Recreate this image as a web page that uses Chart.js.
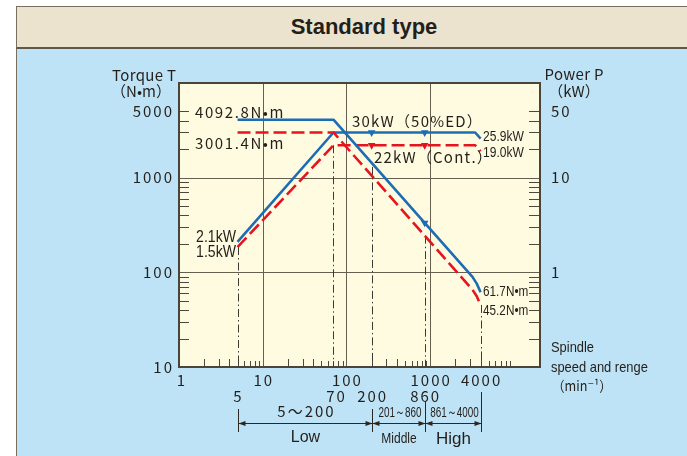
<!DOCTYPE html>
<html>
<head>
<meta charset="utf-8">
<script src="https://cdn.jsdelivr.net/npm/chart.js@4.4.1/dist/chart.umd.min.js"></script>
<style>
html, body { margin: 0; padding: 0; background: #fff; }
#wrap { position: relative; width: 687px; height: 456px; overflow: hidden; background: #fff; }
#head { position: absolute; left: 16px; top: 6px; width: 671px; height: 43px; background: #ece3cf;
    border-top: 1px solid #776f60; border-left: 1px solid #776f60; border-bottom: 2px solid #5e574b; box-sizing: border-box; }
#title { position: absolute; left: 0; width: 694px; top: 7px; line-height: 26px; text-align: center;
    font: bold 22px "Liberation Sans", Arial, sans-serif; color: #231f1a; }
#panel { position: absolute; left: 16px; top: 49px; width: 671px; height: 407px; background: #bee3f6;
    border-left: 1px solid #776f60; box-sizing: border-box; }
#chart { position: absolute; left: 0; top: 0; }
</style>
</head>
<body>
<div id="wrap">
  <div id="head"><div id="title">Standard type</div></div>
  <div id="panel"></div>
  <canvas id="chart" width="687" height="456"></canvas>
</div>
<script>
// torque curves (N·m, left axis)
const speedTorque = [5, 70, 860, 3200, 3600, 4000];
const torqueED = [4092.8, 4092.8, 333, 89.5, 76, 61.7];
const torqueCont = [3001.4, 3001.4, 244, 65.6, 56, 45.2];

// power curves (kW, right axis)
const speedPower = [5, 70, 200, 860, 3450, 4000];
const powerED = [2.1, 30, 30, 30, 30, 25.9];
const powerCont = [1.85, 22, 22, 22, 22, 19.0];

// gear range change points
const gearSpeeds = [200, 860];
const rangeNames = ['Low', 'Middle', 'High'];
const rangeText = ['5～200', '201～860', '861～4000'];
const rangeEdges = [5, 200, 860, 4000];

// tick labels
const xTicks = [1, 10, 100, 1000, 4000];
const xSubTicks = [5, 70, 200, 860];
const torqueTicks = [10, 100, 1000, 5000];
const powerTicks = [1, 10, 50];

const ink = '#231f1a';
const gridCol = '#665f50';
const blue = '#1c6db4';
const red = '#e5141f';
const jp = '"Noto Sans CJK JP", "DejaVu Sans", sans-serif';
const sans = '"Liberation Sans", Arial, sans-serif';

function pts(xs, ys) {
    return xs.map((x, i) => ({ x: x, y: ys[i] }));
}

function label(ctx, s, x, y, o) {
    ctx.save();
    ctx.font = o.font;
    ctx.fillStyle = o.color || ink;
    const sp = o.sp || 0;
    ctx.letterSpacing = sp + 'px';
    ctx.textBaseline = 'middle';
    ctx.textAlign = 'left';
    const sx = o.sx || 1;
    const w = (ctx.measureText(s).width - sp) * sx;
    let x0 = x;
    if (o.align === 'center') x0 = x - w / 2;
    else if (o.align === 'right') x0 = x - w;
    ctx.translate(x0, y);
    ctx.scale(sx, 1);
    ctx.fillText(s, 0, 0);
    ctx.restore();
}

function seg(ctx, x1, y1, x2, y2) {
    ctx.beginPath();
    ctx.moveTo(x1, y1);
    ctx.lineTo(x2, y2);
    ctx.stroke();
}

function arrow(ctx, x, y, dir) {
    ctx.beginPath();
    ctx.moveTo(x, y);
    ctx.lineTo(x - dir * 7, y - 2.5);
    ctx.lineTo(x - dir * 7, y + 2.5);
    ctx.closePath();
    ctx.fill();
}

const backdrop = {
    id: 'backdrop',
    beforeDatasetsDraw(chart) {
        const ctx = chart.ctx;
        const { left, right, top, bottom } = chart.chartArea;
        const xs = chart.scales.x, yL = chart.scales.y, yR = chart.scales.y2;
        ctx.save();
        ctx.fillStyle = '#fffbe1';
        ctx.fillRect(left, top, right - left, bottom - top);

        // major grid
        ctx.strokeStyle = gridCol;
        ctx.lineWidth = 1;
        [10, 100, 1000].forEach(v => {
            const px = Math.round(xs.getPixelForValue(v)) + 0.5;
            seg(ctx, px, top, px, bottom);
        });
        [100, 1000].forEach(v => {
            const py = Math.round(yL.getPixelForValue(v)) + 0.5;
            seg(ctx, left, py, right, py);
        });

        // minor ticks
        ctx.strokeStyle = '#4d473c';
        [1, 10, 100, 1000].forEach(d => {
            for (let m = 2; m <= 9; m++) {
                const px = Math.round(xs.getPixelForValue(d * m)) + 0.5;
                seg(ctx, px, bottom, px, bottom - (m <= 4 ? 8 : 6));
            }
        });
        [10, 100, 1000].forEach(d => {
            for (let m = 2; m <= (d === 1000 ? 5 : 9); m++) {
                const py = Math.round(yL.getPixelForValue(d * m)) + 0.5;
                seg(ctx, left, py, left + 10, py);
            }
        });
        [0.1, 1, 10].forEach(d => {
            for (let m = 2; m <= (d === 10 ? 5 : 9); m++) {
                const py = Math.round(yR.getPixelForValue(d * m)) + 0.5;
                seg(ctx, right, py, right - 11, py);
            }
        });

        // dash-dot speed markers
        ctx.strokeStyle = '#3e3a33';
        ctx.setLineDash([8, 3, 1.5, 3]);
        const n = speedTorque.length - 1;
        const marks = [
            [speedPower[0], yR.getPixelForValue(powerCont[0])],
            [speedTorque[1], yR.getPixelForValue(powerCont[1])],
            [gearSpeeds[0], yL.getPixelForValue(torqueED[1] * speedTorque[1] / gearSpeeds[0]) + 4],
            [gearSpeeds[1], yL.getPixelForValue(torqueCont[2])],
            [speedTorque[n], yL.getPixelForValue(torqueCont[n])]
        ];
        marks.forEach(([v, y0]) => {
            const px = Math.round(xs.getPixelForValue(v)) + 0.5;
            seg(ctx, px, y0, px, bottom);
        });
        ctx.restore();
    },
    afterDatasetsDraw(chart) {
        const ctx = chart.ctx;
        const { left, right, top, bottom } = chart.chartArea;
        const xs = chart.scales.x, yL = chart.scales.y, yR = chart.scales.y2;
        ctx.save();

        // frame
        ctx.strokeStyle = '#4a443a';
        ctx.lineWidth = 2;
        ctx.strokeRect(left, top, right - left, bottom - top);

        // axis tick labels
        const num = '15px ' + jp;
        torqueTicks.forEach(v => label(ctx, String(v), 172, yL.getPixelForValue(v), { font: num, sp: 2, align: 'right' }));
        powerTicks.forEach(v => label(ctx, String(v), 551, yR.getPixelForValue(v), { font: num, sp: 2 }));
        xTicks.forEach(v => label(ctx, String(v), xs.getPixelForValue(v) + (v === 1 ? 2 : 0), 380, { font: num, sp: 2, align: 'center' }));
        xSubTicks.forEach(v => label(ctx, String(v), xs.getPixelForValue(v) + (v === 70 ? 2 : 0), 396, { font: num, sp: 2, align: 'center' }));

        // axis titles
        label(ctx, 'Torque T', 144, 75, { font: '15px ' + jp, sp: 0.3, align: 'center' });
        label(ctx, '（N•m）', 141, 91, { font: '15px ' + jp, sp: 0, align: 'center' });
        label(ctx, 'Power P', 574, 74, { font: '15px ' + jp, sp: 0.3, align: 'center' });
        label(ctx, '（kW）', 574, 91, { font: '15px ' + jp, sp: 0, align: 'center' });
        label(ctx, 'Spindle', 551, 348, { font: '15px ' + sans, sx: 0.86 });
        label(ctx, 'speed and renge', 551, 368, { font: '15px ' + sans, sx: 0.86 });
        label(ctx, '（min⁻¹）', 552, 386, { font: '14px ' + jp, sx: 0.9 });

        // curve annotations
        const big = '15px ' + jp;
        label(ctx, '4092.8N•m', 195, 112, { font: big, sp: 1.6 });
        label(ctx, '3001.4N•m', 195, 143, { font: big, sp: 1.6 });
        label(ctx, '30kW（50%ED）', 352, 121, { font: big, sp: 1.2 });
        label(ctx, '22kW（Cont.）', 374, 157, { font: big, sp: 1.2 });
        const cond = '14px ' + sans;
        label(ctx, '25.9kW', 483, 137, { font: cond, sx: 0.86 });
        label(ctx, '19.0kW', 483, 153, { font: cond, sx: 0.86 });
        label(ctx, '61.7N•m', 483, 292, { font: cond, sx: 0.84 });
        label(ctx, '45.2N•m', 483, 311, { font: cond, sx: 0.84 });
        label(ctx, '2.1kW', 236, 238, { font: '16px ' + sans, sx: 0.88, align: 'right' });
        label(ctx, '1.5kW', 236, 253, { font: '16px ' + sans, sx: 0.88, align: 'right' });

        // speed range dimension lines
        ctx.strokeStyle = '#2b2721';
        ctx.fillStyle = '#2b2721';
        ctx.lineWidth = 1;
        const ex = rangeEdges.map(v => Math.round(xs.getPixelForValue(v)) + 0.5);
        const barTop = [409, 409, 402, 392];
        ex.forEach((px, i) => seg(ctx, px, barTop[i], px, 432));
        const ly = 423.5;
        for (let i = 0; i < 3; i++) {
            seg(ctx, ex[i], ly, ex[i + 1], ly);
            arrow(ctx, ex[i], ly, -1);
            arrow(ctx, ex[i + 1], ly, 1);
            const cx = (ex[i] + ex[i + 1]) / 2;
            if (i === 0) {
                label(ctx, rangeText[i], cx, 411, { font: '15px ' + jp, sp: 2, align: 'center' });
                label(ctx, rangeNames[i], cx, 438, { font: '16px ' + sans, align: 'center' });
            } else {
                label(ctx, rangeText[i], cx + 1, 413, { font: '15px ' + sans, sx: 0.66, align: 'center' });
                label(ctx, rangeNames[i], cx, 439, i === 1 ? { font: '15px ' + sans, sx: 0.8, align: 'center' } : { font: '17px ' + sans, align: 'center' });
            }
        }
        ctx.restore();
    }
};

const gearPoint = c => (gearSpeeds.includes(c.raw && c.raw.x) ? 1.8 : 0);

new Chart(document.getElementById('chart'), {
    type: 'line',
    data: {
        datasets: [
            { label: 'Torque 50%ED', data: pts(speedTorque, torqueED), yAxisID: 'y',
              borderColor: blue, backgroundColor: blue, borderWidth: 2.6,
              pointRadius: c => (c.raw && c.raw.x === gearSpeeds[1] ? 1.8 : 0), pointStyle: 'triangle', rotation: 180 },
            { label: 'Torque Cont.', data: pts(speedTorque, torqueCont), yAxisID: 'y',
              borderColor: red, backgroundColor: red, borderWidth: 2.6, borderDash: [13, 5], pointRadius: 0 },
            { label: 'Power 50%ED', data: pts(speedPower, powerED), yAxisID: 'y2',
              borderColor: blue, backgroundColor: blue, borderWidth: 2.6,
              pointRadius: gearPoint, pointStyle: 'triangle', rotation: 180 },
            { label: 'Power Cont.', data: pts(speedPower, powerCont), yAxisID: 'y2',
              borderColor: red, backgroundColor: red, borderWidth: 2.6, borderDash: [13, 5],
              pointRadius: gearPoint, pointStyle: 'triangle', rotation: 180 }
        ]
    },
    options: {
        responsive: false,
        animation: false,
        layout: { padding: { left: 179, right: 147, top: 83, bottom: 89 } },
        plugins: { legend: { display: false }, tooltip: { enabled: false } },
        elements: { line: { tension: 0, borderCapStyle: 'butt', borderJoinStyle: 'round' }, point: { borderWidth: 0 } },
        scales: {
            x: { type: 'logarithmic', min: 1, max: 20500, display: false },
            y: { type: 'logarithmic', min: 10, max: 10000, display: false },
            y2: { type: 'logarithmic', min: 0.1, max: 100, display: false, position: 'right' }
        }
    },
    plugins: [backdrop]
});
</script>
</body>
</html>
